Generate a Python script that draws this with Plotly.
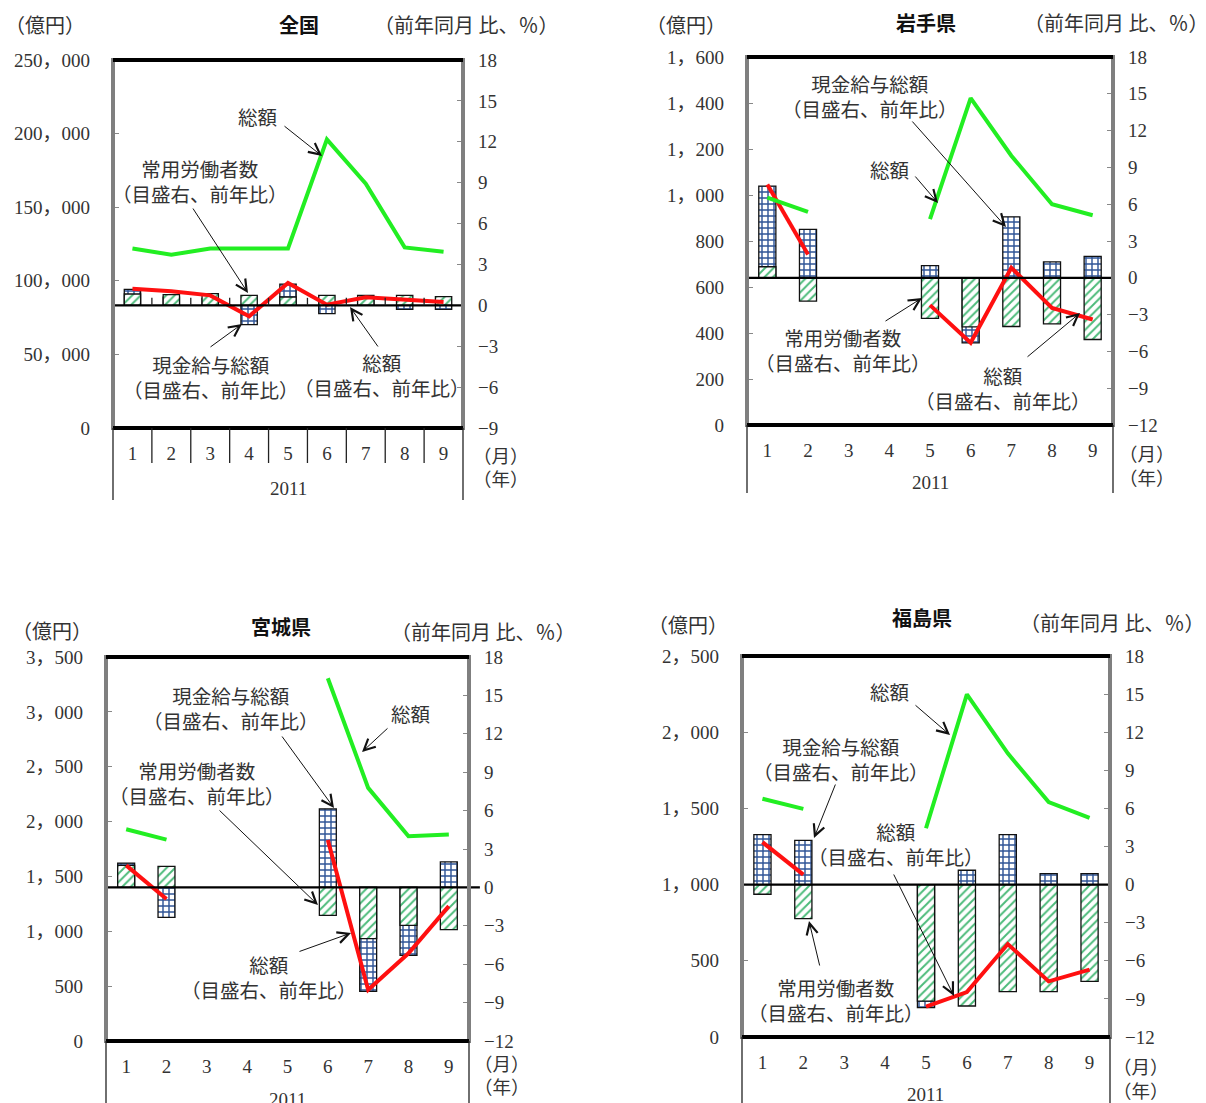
import plotly.graph_objects as go

W, H = 1206, 1103

months = [1, 2, 3, 4, 5, 6, 7, 8, 9]
month_labels = ["1", "2", "3", "4", "5", "6", "7", "8", "9"]
year_label = "2011"

# 全国: 総額 (億円) and year-on-year changes (%)
zenkoku_total = [122000, 117700, 122000, 122000, 122000, 196100, 165900, 122700, 119800]
zenkoku_total_yoy = [1.22, 1.03, 0.73, -0.81, 1.64, 0.05, 0.59, 0.42, 0.24]
zenkoku_wage_yoy = [1.17, 0.6, 0.5, -1.42, 1.56, -0.61, 0.4, -0.29, -0.29]
zenkoku_emp_yoy = [0.83, 0.78, 0.86, 0.73, 0.61, 0.73, 0.73, 0.73, 0.64]

# 岩手県
iwate_total = [989, 927, None, None, 895, 1421, 1171, 960, 912]
iwate_total_yoy = [7.6, 1.9, None, None, -2.23, -5.3, 0.82, -2.45, -3.4]
iwate_wage_yoy = [7.47, 3.94, None, None, 1.0, -5.3, 4.97, 1.3, 1.74]
iwate_emp_yoy = [0.9, -1.9, None, None, -3.3, -4.0, -3.97, -3.75, -5.03]

# 宮城県
miyagi_total = [1930, 1835, None, None, None, 3306, 2307, 1867, 1882]
miyagi_total_yoy = [1.72, -0.9, None, None, None, 3.7, -8.0, -5.15, -1.46]
miyagi_wage_yoy = [1.9, -2.34, None, None, None, 6.14, -8.12, -5.31, 2.0]
miyagi_emp_yoy = [1.72, 1.64, None, None, None, -2.19, -4.0, -2.97, -3.3]

# 福島県
fukushima_total = [1563, 1497, None, None, 1370, 2248, 1861, 1541, 1438]
fukushima_total_yoy = [3.34, 0.79, None, None, -9.6, -8.46, -4.68, -7.62, -6.7]
fukushima_wage_yoy = [3.94, 3.49, None, None, -9.69, 1.13, 3.94, 0.87, 0.87]
fukushima_emp_yoy = [-0.76, -2.68, None, None, -9.17, -9.56, -8.43, -8.43, -7.62]

NUM_FONT = "Liberation Serif, Noto Sans CJK JP, serif"
JP_FONT = "Noto Sans CJK JP, sans-serif"
TXT = "#333333"
BLUE = "#2f5597"
GREEN = "#4cbb7a"
LINE_GREEN = "#22ee22"
LINE_RED = "#ff1010"

panels = [
    dict(name="全国", total=zenkoku_total, total_yoy=zenkoku_total_yoy,
         wage=zenkoku_wage_yoy, emp=zenkoku_emp_yoy,
         box=(113, 60, 463, 428), lmax=250000, ldt=50000, rmin=-9, rmax=18,
         separators=True, axis_bottom=500,
         head=((45, 24), (299, 25), (466, 25)),
         year=(288, 488), unit=(501, 455, 478),
         texts=[("総額", 258, 116),
                ("常用労働者数<br>（目盛右、前年比）", 200, 181),
                ("現金給与総額<br>（目盛右、前年比）", 211, 377),
                ("総額<br>（目盛右、前年比）", 382, 375)],
         arrows=[((283, 125), (322, 156)),
                 ((192, 207), (248, 293)),
                 ((209, 348), (242, 324)),
                 ((379, 348), (350, 307))]),
    dict(name="岩手県", total=iwate_total, total_yoy=iwate_total_yoy,
         wage=iwate_wage_yoy, emp=iwate_emp_yoy,
         box=(747, 57, 1113, 425), lmax=1600, ldt=200, rmin=-12, rmax=18,
         separators=False, axis_bottom=493,
         head=((686, 24), (926, 23), (1116, 22)),
         year=(930, 483), unit=(1147, 453, 477),
         texts=[("現金給与総額<br>（目盛右、前年比）", 870, 96),
                ("総額", 890, 170),
                ("常用労働者数<br>（目盛右、前年比）", 843, 350),
                ("総額<br>（目盛右、前年比）", 1003, 388)],
         arrows=[((911, 120), (1006, 227)),
                 ((914, 175), (938, 203)),
                 ((884, 322), (922, 298)),
                 ((1026, 358), (1080, 313))]),
    dict(name="宮城県", total=miyagi_total, total_yoy=miyagi_total_yoy,
         wage=miyagi_wage_yoy, emp=miyagi_emp_yoy,
         box=(106, 657, 469, 1041), lmax=3500, ldt=500, rmin=-12, rmax=18,
         separators=False, axis_bottom=1103,
         head=((52, 630), (281, 626), (483, 631)),
         year=(287, 1099), unit=(502, 1063, 1086),
         texts=[("現金給与総額<br>（目盛右、前年比）", 231, 708),
                ("総額", 411, 713),
                ("常用労働者数<br>（目盛右、前年比）", 197, 783),
                ("総額<br>（目盛右、前年比）", 269, 977)],
         arrows=[((281, 735), (334, 808)),
                 ((389, 727), (362, 752)),
                 ((218, 809), (318, 905)),
                 ((298, 952), (351, 933))]),
    dict(name="福島県", total=fukushima_total, total_yoy=fukushima_total_yoy,
         wage=fukushima_wage_yoy, emp=fukushima_emp_yoy,
         box=(742, 656, 1110, 1037), lmax=2500, ldt=500, rmin=-12, rmax=18,
         separators=False, axis_bottom=1103,
         head=((688, 624), (922, 617), (1112, 622)),
         year=(926, 1094), unit=(1141, 1066, 1090),
         texts=[("総額", 890, 691),
                ("現金給与総額<br>（目盛右、前年比）", 841, 759),
                ("総額<br>（目盛右、前年比）", 896, 844),
                ("常用労働者数<br>（目盛右、前年比）", 836, 1000)],
         arrows=[((914, 704), (950, 735)),
                 ((836, 783), (814, 838)),
                 ((893, 873), (954, 996)),
                 ((820, 967), (809, 921))]),
]


def px(x):
    return x / W


def py(y):
    return 1 - y / H


def label(text, x, y, font):
    return dict(text=text, x=px(x), y=py(y), xref="paper", yref="paper",
                xanchor="center", yanchor="middle", align="center",
                showarrow=False, font=font)


fig = go.Figure()
layout = dict(width=W, height=H, autosize=False, margin=dict(l=0, r=0, t=0, b=0, pad=0),
              paper_bgcolor="white", plot_bgcolor="white",
              barmode="overlay", showlegend=False)
shapes = []
annotations = []
jp = dict(family=JP_FONT, size=19.5, color=TXT)
jp_head = dict(family=JP_FONT, size=20, color=TXT)
jp_unit = dict(family=JP_FONT, size=18.5, color=TXT)

for i, p in enumerate(panels, start=1):
    xid = "x" if i == 1 else f"x{i}"
    rid = 2 * i - 1          # right-hand % axis (base)
    lid = 2 * i              # left-hand 億円 axis (overlaying)
    rref = "y" if rid == 1 else f"y{rid}"
    lref = f"y{lid}"
    xkey = "xaxis" if i == 1 else f"xaxis{i}"
    rkey = "yaxis" if rid == 1 else f"yaxis{rid}"
    lkey = f"yaxis{lid}"

    x0, y0, x1, y1 = p["box"]
    dom_x = [px(x0), px(x1)]
    dom_y = [py(y1), py(y0)]

    layout[xkey] = dict(domain=dom_x, anchor=rref, range=[0.5, 9.5], automargin=False,
                        tickvals=months, ticktext=month_labels, ticks="",
                        showline=False, showgrid=False, zeroline=False,
                        ticklabelstandoff=12,
                        tickfont=dict(family=NUM_FONT, size=19, color=TXT))
    rticks = list(range(p["rmin"], p["rmax"] + 1, 3))
    layout[rkey] = dict(domain=dom_y, anchor=xid, side="right", automargin=False,
                        range=[p["rmin"], p["rmax"]], tickvals=rticks,
                        ticks="inside", ticklen=6, tickcolor="#888888",
                        showline=False, showgrid=False, zeroline=False,
                        ticklabelstandoff=14,
                        tickfont=dict(family=NUM_FONT, size=19, color=TXT))
    lticks = list(range(0, p["lmax"] + 1, p["ldt"]))
    layout[lkey] = dict(overlaying=rref, anchor=xid, side="left", automargin=False,
                        range=[0, p["lmax"]], tickvals=lticks,
                        ticktext=[f"{v:,}".replace(",", "，") for v in lticks],
                        ticks="inside", ticklen=6, tickcolor="#888888",
                        showline=False, showgrid=False, zeroline=False,
                        ticklabelstandoff=22,
                        tickfont=dict(family=NUM_FONT, size=19, color=TXT))

    # 現金給与総額 (blue grid) and 常用労働者数 (green hatch) on the % axis
    fig.add_trace(go.Bar(x=months, y=p["wage"], xaxis=xid, yaxis=rref, width=0.42,
                         marker=dict(color="white", line=dict(color="#111111", width=1.3),
                                     pattern=dict(shape="+", fgcolor=BLUE, bgcolor="white",
                                                  fillmode="replace", size=6, solidity=0.42))))
    fig.add_trace(go.Bar(x=months, y=p["emp"], xaxis=xid, yaxis=rref, width=0.42,
                         marker=dict(color="white", line=dict(color="#111111", width=1.3),
                                     pattern=dict(shape="/", fgcolor=GREEN, bgcolor="white",
                                                  fillmode="replace", size=6, solidity=0.32))))
    # 総額 前年比 (red) on the % axis
    fig.add_trace(go.Scatter(x=months, y=p["total_yoy"], xaxis=xid, yaxis=rref,
                             mode="lines", connectgaps=False,
                             line=dict(color=LINE_RED, width=4)))
    # 総額 (green) on the 億円 axis
    fig.add_trace(go.Scatter(x=months, y=p["total"], xaxis=xid, yaxis=lref,
                             mode="lines", connectgaps=False,
                             line=dict(color=LINE_GREEN, width=4)))

    xd = f"{xid} domain"
    yd = f"{rref} domain"
    h = y1 - y0
    # zero line of the % axis
    shapes.append(dict(type="line", xref=xd, yref=rref, x0=0, x1=1.0 if i != 3 else 1.03,
                       y0=0, y1=0, line=dict(color="black", width=2.2), layer="above"))
    # plot frame
    shapes.append(dict(type="rect", xref=xd, yref=yd, x0=0, x1=1, y0=0, y1=1,
                       line=dict(color="#7f7f7f", width=4), layer="above"))
    for yy in (0, 1):
        shapes.append(dict(type="line", xref=xd, yref=yd, x0=0, x1=1, y0=yy, y1=yy,
                           line=dict(color="black", width=4), layer="above"))
    # category axis outline below the plot
    bottom = -(p["axis_bottom"] - y1) / h
    for xx in (0, 1):
        shapes.append(dict(type="line", xref=xd, yref=yd, x0=xx, x1=xx, y0=0, y1=bottom,
                           line=dict(color="#222222", width=1.3)))
    if p["separators"]:
        sep_bottom = -(463 - y1) / h
        for k in range(1, 9):
            shapes.append(dict(type="line", xref=xd, yref=yd, x0=k / 9, x1=k / 9,
                               y0=0, y1=sep_bottom, line=dict(color="#222222", width=1.3)))
            shapes.append(dict(type="line", xref=xd, yref=rref, x0=k / 9, x1=k / 9,
                               y0=0, y1=0.55, line=dict(color="#222222", width=1.3)))

    # headings
    (ux, uy), (tx, ty), (rx, ry) = p["head"]
    annotations.append(label("（億円）", ux, uy, jp_head))
    annotations.append(label(p["name"], tx, ty,
                             dict(family=JP_FONT, size=20, color="#111111", weight=700)))
    annotations.append(label("（前年同月 比、％）", rx, ry, jp_head))
    annotations.append(label(year_label, p["year"][0], p["year"][1],
                             dict(family=NUM_FONT, size=19, color=TXT)))
    mx, my1, my2 = p["unit"]
    annotations.append(label("（月）", mx, my1, jp_unit))
    annotations.append(label("（年）", mx, my2, jp_unit))

    # callout labels and their arrows
    for text, cx, cy in p["texts"]:
        annotations.append(label(text, cx, cy, jp))
    for (sx, sy), (ex, ey) in p["arrows"]:
        annotations.append(dict(text="", x=px(ex), y=py(ey), xref="paper", yref="paper",
                                showarrow=True, ax=sx - ex, ay=sy - ey,
                                arrowhead=5, arrowsize=2.2, arrowwidth=1,
                                arrowcolor="#111111"))

layout["shapes"] = shapes
layout["annotations"] = annotations
fig.update_layout(**layout)

fig.write_html("out.html")
